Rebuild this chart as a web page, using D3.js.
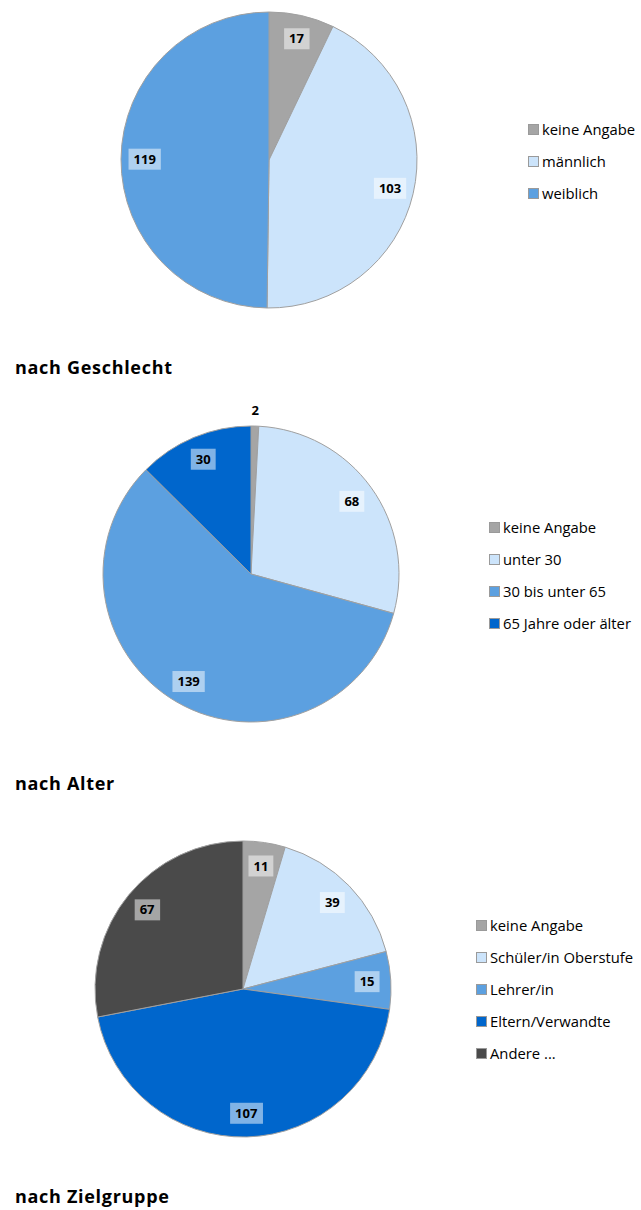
<!DOCTYPE html>
<html>
<head>
<meta charset="utf-8">
<script src="https://cdn.jsdelivr.net/npm/d3@7"></script>
<style>
  body { margin: 0; background: #fff; }
  svg text { font-family: "Open Sans", sans-serif; }
</style>
</head>
<body>
<div id="chart"></div>
<script>
// DATEN
const geschlechtLabels = ["keine Angabe", "männlich", "weiblich"];
const geschlechtValues = [17, 103, 119];
const geschlechtColors = ["#a5a5a5", "#cce4fb", "#5ca0e0"];

const alterLabels = ["keine Angabe", "unter 30", "30 bis unter 65", "65 Jahre oder älter"];
const alterValues = [2, 68, 139, 30];
const alterColors = ["#a5a5a5", "#cce4fb", "#5ca0e0", "#0066cc"];

const zielLabels = ["keine Angabe", "Schüler/in Oberstufe", "Lehrer/in", "Eltern/Verwandte", "Andere ..."];
const zielValues = [11, 39, 15, 107, 67];
const zielColors = ["#a5a5a5", "#cce4fb", "#5ca0e0", "#0066cc", "#4a4a4a"];

const width = 641, height = 1210;

const svg = d3.select("#chart").append("svg")
    .attr("width", width)
    .attr("height", height);

// layout for each block
const charts = [
  { labels: geschlechtLabels, values: geschlechtValues, colors: geschlechtColors,
    cx: 269, cy: 160, r: 148, legX: 528, legY: 129, title: "nach Geschlecht", titleY: 374 },
  { labels: alterLabels, values: alterValues, colors: alterColors,
    cx: 251, cy: 574, r: 148, legX: 489, legY: 527, title: "nach Alter", titleY: 790 },
  { labels: zielLabels, values: zielValues, colors: zielColors,
    cx: 243, cy: 989, r: 148, legX: 476, legY: 925, title: "nach Zielgruppe", titleY: 1203 }
];

const pie = d3.pie().sort(null).value(d => d.value);

charts.forEach(c => {
  const data = c.labels.map((l, i) => ({ label: l, value: c.values[i], color: c.colors[i] }));
  const arcs = pie(data);
  const total = d3.sum(c.values);

  const arc = d3.arc().innerRadius(0).outerRadius(c.r);
  const labelArc = d3.arc().innerRadius(c.r * 0.84).outerRadius(c.r * 0.84);
  const outerArc = d3.arc().innerRadius(c.r + 16).outerRadius(c.r + 16);

  const g = svg.append("g").attr("transform", `translate(${c.cx},${c.cy})`);

  g.selectAll("path.slice")
    .data(arcs)
    .enter()
    .append("path")
    .attr("class", "slice")
    .attr("d", arc)
    .attr("fill", d => d.data.color)
    .attr("stroke", "#a0a0a0")
    .attr("stroke-width", 1);

  // BESCHRIFTUNG
  const lab = g.selectAll("g.lab")
    .data(arcs)
    .enter()
    .append("g")
    .attr("class", "lab")
    .attr("transform", d => {
      const small = d.data.value / total < 0.02;
      const p = small ? outerArc.centroid(d) : labelArc.centroid(d);
      return `translate(${p[0]},${p[1]})`;
    });

  lab.each(function(d) {
    const sel = d3.select(this);
    const small = d.data.value / total < 0.02;
    const t = sel.append("text")
      .attr("text-anchor", "middle")
      .attr("dy", "0.35em")
      .style("font-size", "13px")
      .style("font-weight", "bold")
      .attr("fill", "#000")
      .text(d.data.value);
    if (!small) {
      const bb = t.node().getBBox();
      sel.insert("rect", "text")
        .attr("x", bb.x - 5)
        .attr("y", -10.5)
        .attr("width", bb.width + 10)
        .attr("height", 21)
        .attr("fill", "#fff")
        .attr("fill-opacity", 0.5);
    }
  });

  // LEGENDE
  const leg = svg.append("g").attr("transform", `translate(${c.legX},${c.legY})`);
  data.forEach((d, i) => {
    const row = leg.append("g").attr("transform", `translate(0,${i * 32})`);
    row.append("rect")
      .attr("x", 0.5).attr("y", -4.5)
      .attr("width", 10).attr("height", 10)
      .attr("fill", d.color)
      .attr("stroke", "#9a9a9a")
      .attr("stroke-width", 1);
    row.append("text")
      .attr("x", 14)
      .attr("dy", "0.38em")
      .style("font-size", "14.8px")
      .attr("fill", "#000")
      .text(d.label);
  });

  // TITEL
  svg.append("text")
    .attr("x", 15)
    .attr("y", c.titleY)
    .style("font-size", "18px")
    .style("font-weight", "bold")
    .style("letter-spacing", "0.7px")
    .attr("fill", "#000")
    .text(c.title);
});
</script>
</body>
</html>
